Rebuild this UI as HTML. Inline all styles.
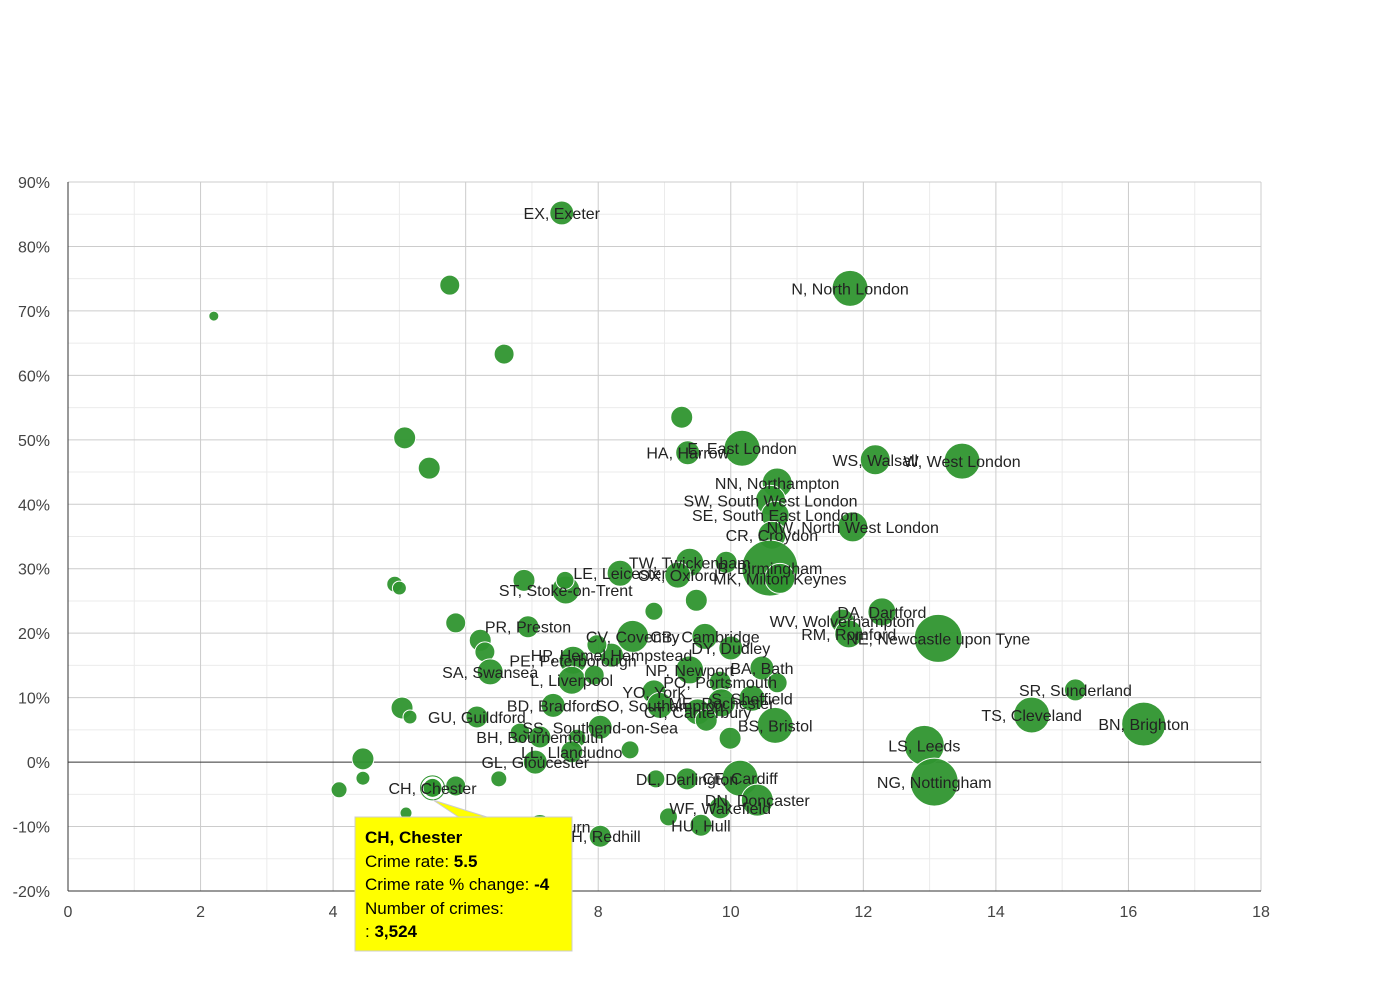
<!DOCTYPE html>
<html><head><meta charset="utf-8"><style>
body{margin:0;background:#fff;font-family:"Liberation Sans",Arial,sans-serif}
svg text{font-family:"Liberation Sans",Arial,sans-serif}
</style></head><body>
<svg id="chart" width="1390" height="980" xmlns="http://www.w3.org/2000/svg">
<g id="grid"></g>
<g id="axes"></g>
<g id="bubbles"></g>
<g id="labels"></g>
<g id="tooltip">
<path d="M433,800 L460,818 L490,818 Z" fill="#ffff00" stroke="#ccc" stroke-width="1"/>
<rect x="355" y="817" width="217" height="134" fill="#ffff00" stroke="#ccc" stroke-width="1"/>
<text x="365" y="843" font-size="17" font-weight="bold">CH, Chester</text>
<text x="365" y="867" font-size="17">Crime rate: <tspan font-weight="bold">5.5</tspan></text>
<text x="365" y="890" font-size="17">Crime rate % change: <tspan font-weight="bold">-4</tspan></text>
<text x="365" y="914" font-size="17">Number of crimes:</text>
<text x="365" y="937" font-size="17">: <tspan font-weight="bold">3,524</tspan></text>
</g>
</svg>
<script>
const labels=["EX, Exeter",null,null,null,"N, North London",null,null,null,"E, East London","HA, Harrow","WS, Walsall","W, West London","NN, Northampton","SW, South West London","SE, South East London","NW, North West London","CR, Croydon","B, Birmingham","MK, Milton Keynes","TW, Twickenham",null,"OX, Oxford",null,"LE, Leicester","ST, Stoke-on-Trent",null,null,null,null,null,"DA, Dartford","WV, Wolverhampton","RM, Romford","NE, Newcastle upon Tyne","SR, Sunderland","TS, Cleveland","BN, Brighton","LS, Leeds","NG, Nottingham","PR, Preston",null,"CV, Coventry","CB, Cambridge","DY, Dudley",null,null,"HP, Hemel Hempstead",null,"PE, Peterborough","SA, Swansea","L, Liverpool",null,"NP, Newport","BA, Bath",null,"PO, Portsmouth","YO, York","S, Sheffield","ME, Rochester","BD, Bradford","SO, Southampton","CT, Canterbury","BS, Bristol",null,null,null,null,"GU, Guildford",null,"SS, Southend-on-Sea","BH, Bournemouth",null,"LL, Llandudno",null,"GL, Gloucester",null,null,null,"CH, Chester",null,null,null,"DL, Darlington",null,"CF, Cardiff","DN, Doncaster","WF, Wakefield",null,"HU, Hull","RH, Redhill","BB, Blackburn"];
const crimeRate=[7.45,5.76,2.2,6.58,11.8,9.26,5.08,5.45,10.17,9.35,12.18,13.49,10.7,10.6,10.67,11.84,10.62,10.59,10.74,9.38,9.93,9.2,9.48,8.33,7.51,7.5,6.88,4.93,5.0,8.84,12.28,11.68,11.78,13.13,15.2,14.54,16.23,12.92,13.07,6.94,5.85,8.52,9.61,10.0,6.22,6.29,8.2,7.98,7.62,6.37,7.6,7.94,9.38,10.47,10.7,9.84,8.84,10.32,9.86,7.32,8.93,9.5,10.67,9.63,9.99,5.04,5.16,6.17,6.82,8.03,7.12,7.68,7.6,8.48,7.05,4.45,4.45,4.09,5.5,5.85,6.5,5.1,9.34,8.87,10.14,10.4,9.84,9.06,9.55,8.03,7.12];
const rateChange=[85.2,74,69.2,63.3,73.5,53.5,50.3,45.6,48.7,48,46.9,46.7,43.3,40.6,38.3,36.5,35.2,30.1,28.5,31,31,29,25.1,29.3,26.7,28.2,28.2,27.6,27,23.4,23.3,21.9,19.9,19.2,11.2,7.3,5.9,2.6,-3.1,21,21.6,19.5,19.5,17.7,18.9,17.1,16.6,18.2,15.8,14,12.7,13.5,14.3,14.6,12.3,12.4,10.9,9.9,9.2,8.8,8.8,7.8,5.7,6.5,3.7,8.4,7,7,4.5,5.4,3.9,3.7,1.6,1.9,0,0.5,-2.5,-4.3,-4,-3.7,-2.6,-7.9,-2.6,-2.6,-2.5,-5.9,-7.1,-8.5,-9.8,-11.5,-10];
const crimes=[3524,2450,613,2450,7940,2965,2965,2965,7940,3524,5510,7940,5510,5510,4800,5510,4800,19210,5510,4800,2965,4140,2965,4140,4800,1985,2965,1570,1200,1985,4800,3524,4800,14110,2965,7940,11860,9800,14110,2965,2450,6270,4140,3524,2965,2450,3524,2450,4800,4140,4800,2450,4800,3524,2450,2965,3524,4140,4800,3524,4140,4140,7940,2965,2965,2965,1200,2965,2450,3524,2965,1985,2965,1985,3524,2965,1200,1570,3524,2450,1570,880,2965,1985,7940,6270,2965,1985,2965,2965,3524];
const xTicks=[0,2,4,6,8,10,12,14,16,18];
const yTicks=[90,80,70,60,50,40,30,20,10,0,-10,-20];
const NS="http://www.w3.org/2000/svg";
const X0=68,X1=1261,Y0=182,Y1=891;
function xs(v){return X0+(v-0)/(18-0)*(X1-X0);}
function ys(v){return Y1-(v+20)/110*(Y1-Y0);}
function rs(c){return Math.sqrt(c)*0.202;}
function mk(tag,attrs,parent){const e=document.createElementNS(NS,tag);for(const k in attrs)e.setAttribute(k,attrs[k]);parent.appendChild(e);return e;}
const grid=document.getElementById('grid'),axes=document.getElementById('axes');
for(let v=1;v<18;v+=2){const l=mk('line',{x1:xs(v),x2:xs(v),y1:Y0,y2:Y1,stroke:'#ebebeb'},grid);

}
for(let v=-15;v<90;v+=10){const l=mk('line',{x1:X0,x2:X1,y1:ys(v),y2:ys(v),stroke:'#ebebeb'},grid);

}
xTicks.forEach(v=>{const l=mk('line',{x1:xs(v),x2:xs(v),y1:Y0,y2:Y1,stroke:'#cccccc'},grid);


const t=mk('text',{x:xs(v),y:Y1+26,'text-anchor':'middle','font-size':16,fill:'#444'},axes);t.textContent=v;

});
yTicks.forEach(v=>{const l=mk('line',{x1:X0,x2:X1,y1:ys(v),y2:ys(v),stroke:v===0?'#333':'#cccccc'},grid);


const t=mk('text',{x:X0-18,y:ys(v)+6,'text-anchor':'end','font-size':16,fill:'#444'},axes);t.textContent=v+'%';

});
const ax=mk('line',{x1:X0,x2:X0,y1:Y0,y2:Y1,stroke:'#333'},axes);


const bx=mk('line',{x1:X0,x2:X1,y1:Y1,y2:Y1,stroke:'#333'},axes);


const bg=document.getElementById('bubbles'),lg=document.getElementById('labels');
crimeRate.forEach((v,i)=>{const c=mk('circle',{cx:xs(v),cy:ys(rateChange[i]),r:rs(crimes[i]),fill:i===78?'#ffffff':'#2f952f','fill-opacity':i===78?1:0.95,stroke:i===78?'#2f952f':'#ffffff','stroke-width':1},bg);


if(i===78){mk('circle',{cx:xs(v),cy:ys(rateChange[i]),r:rs(crimes[i])-3,fill:'#2f952f'},bg);}
if(labels[i]){const t=mk('text',{x:xs(v),y:ys(rateChange[i])+6,'text-anchor':'middle','font-size':16,fill:'#222'},lg);t.textContent=labels[i];

}});
</script>
</body></html>
